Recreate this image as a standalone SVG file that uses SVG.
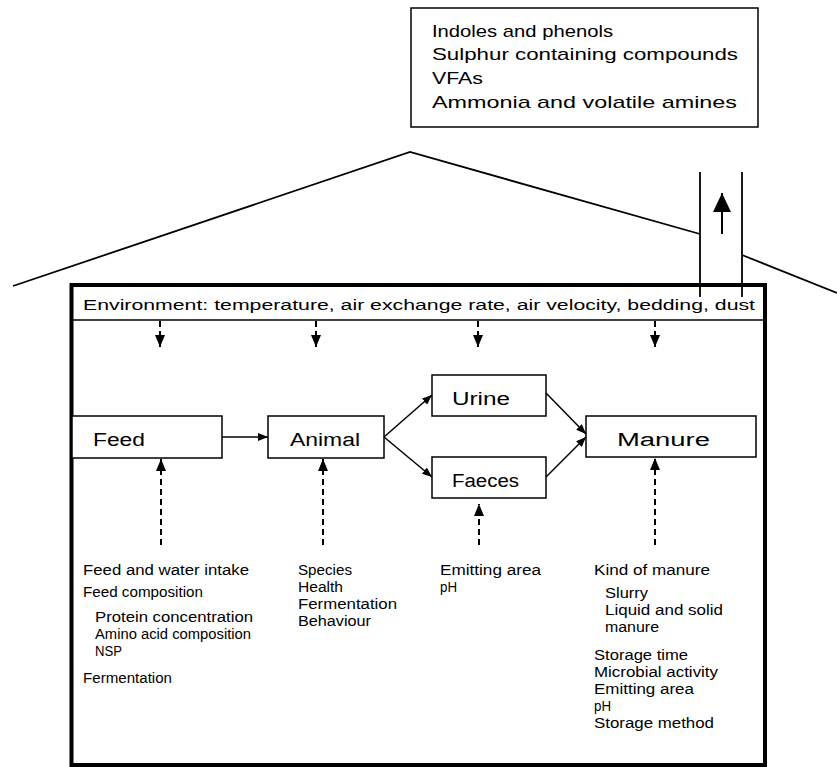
<svg xmlns="http://www.w3.org/2000/svg" width="837" height="767" viewBox="0 0 837 767">
<style>
text{font-family:"Liberation Sans",Arial,sans-serif;fill:#000}
.t17{font-size:17px}
.t15{font-size:15.5px}
.t18{font-size:18px}
.t13{font-size:14px}
.box{fill:#fff;stroke:#000;stroke-width:1.5}
.ln{fill:none;stroke:#000;stroke-width:1.8}
.sa{fill:none;stroke:#000;stroke-width:1.5;marker-end:url(#ah)}
.da{fill:none;stroke:#000;stroke-width:2;stroke-dasharray:6 4;marker-end:url(#dh)}
</style>
<defs>
<marker id="ah" markerUnits="userSpaceOnUse" markerWidth="10" markerHeight="8" refX="10" refY="4" orient="auto"><path d="M0,0 L10,4 L0,8 z" fill="#000"/></marker>
<marker id="dh" markerUnits="userSpaceOnUse" markerWidth="12" markerHeight="10" refX="12" refY="5" orient="auto"><path d="M0,0 L12,5 L0,10 z" fill="#000"/></marker>
<marker id="bh" markerUnits="userSpaceOnUse" markerWidth="19" markerHeight="18" refX="19" refY="9" orient="auto"><path d="M0,0 L19,9 L0,18 z" fill="#000"/></marker>
</defs>

<g id="emissions">
<rect class="box" x="411" y="8" width="347" height="119"/>
<text class="t17" x="432" y="37" textLength="181" lengthAdjust="spacingAndGlyphs">Indoles and phenols</text>
<text class="t17" x="432" y="60" textLength="306" lengthAdjust="spacingAndGlyphs">Sulphur containing compounds</text>
<text class="t17" x="432" y="84" textLength="51" lengthAdjust="spacingAndGlyphs">VFAs</text>
<text class="t17" x="432" y="108" textLength="305" lengthAdjust="spacingAndGlyphs">Ammonia and volatile amines</text>
</g>

<g id="roof">
<polyline class="ln" points="13,286 410,152 700,234"/>
<line class="ln" x1="742" y1="255" x2="837" y2="293"/>
<line class="ln" x1="700" y1="172" x2="700" y2="297"/>
<line class="ln" x1="742" y1="172" x2="742" y2="297"/>
<line x1="722" y1="234" x2="722" y2="193" stroke="#000" stroke-width="2" marker-end="url(#bh)"/>
</g>

<g id="house">
<rect x="71.5" y="285" width="693.5" height="480" fill="none" stroke="#000" stroke-width="4"/>
</g>

<g id="environment">
<line x1="71" y1="320" x2="765" y2="320" stroke="#000" stroke-width="1.5"/>
<text class="t15" x="83" y="310" textLength="672" lengthAdjust="spacingAndGlyphs">Environment: temperature, air exchange rate, air velocity, bedding, dust</text>
</g>

<g id="feed">
<rect class="box" x="72" y="416" width="150" height="42"/>
<text class="t18" x="93" y="446" textLength="52" lengthAdjust="spacingAndGlyphs">Feed</text>
</g>
<g id="animal">
<rect class="box" x="268" y="416" width="116" height="42"/>
<text class="t18" x="290" y="446" textLength="70" lengthAdjust="spacingAndGlyphs">Animal</text>
</g>
<g id="urine">
<rect class="box" x="432" y="375" width="114" height="41"/>
<text class="t18" x="452" y="405" textLength="58" lengthAdjust="spacingAndGlyphs">Urine</text>
</g>
<g id="faeces">
<rect class="box" x="432" y="457" width="114" height="41"/>
<text class="t18" x="452" y="487" textLength="67" lengthAdjust="spacingAndGlyphs">Faeces</text>
</g>
<g id="manure">
<rect class="box" x="586" y="416" width="170" height="41"/>
<text class="t18" x="617" y="446" textLength="93" lengthAdjust="spacingAndGlyphs">Manure</text>
</g>

<g id="connectors">
<line class="sa" x1="222" y1="437" x2="268" y2="437"/>
<line class="sa" x1="384" y1="437" x2="432" y2="395"/>
<line class="sa" x1="384" y1="437" x2="432" y2="477"/>
<line class="sa" x1="546" y1="393" x2="586" y2="434"/>
<line class="sa" x1="546" y1="477" x2="586" y2="437"/>
<line class="da" x1="160" y1="321" x2="160" y2="347"/>
<line class="da" x1="316" y1="321" x2="316" y2="347"/>
<line class="da" x1="478" y1="321" x2="478" y2="347"/>
<line class="da" x1="655" y1="321" x2="655" y2="347"/>
<line class="da" x1="161" y1="545" x2="161" y2="459"/>
<line class="da" x1="323" y1="545" x2="323" y2="459"/>
<line class="da" x1="479" y1="545" x2="479" y2="504"/>
<line class="da" x1="655" y1="545" x2="655" y2="458"/>
</g>

<g id="feed-factors">
<text class="t13" x="83" y="575" textLength="166" lengthAdjust="spacingAndGlyphs">Feed and water intake</text>
<text class="t13" x="83" y="597" textLength="120" lengthAdjust="spacingAndGlyphs">Feed composition</text>
<text class="t13" x="95" y="622" textLength="158" lengthAdjust="spacingAndGlyphs">Protein concentration</text>
<text class="t13" x="95" y="639" textLength="156" lengthAdjust="spacingAndGlyphs">Amino acid composition</text>
<text class="t13" x="95" y="656" textLength="27" lengthAdjust="spacingAndGlyphs">NSP</text>
<text class="t13" x="83" y="683" textLength="89" lengthAdjust="spacingAndGlyphs">Fermentation</text>
</g>
<g id="animal-factors">
<text class="t13" x="298" y="575" textLength="54" lengthAdjust="spacingAndGlyphs">Species</text>
<text class="t13" x="298" y="592" textLength="45" lengthAdjust="spacingAndGlyphs">Health</text>
<text class="t13" x="298" y="609" textLength="99" lengthAdjust="spacingAndGlyphs">Fermentation</text>
<text class="t13" x="298" y="626" textLength="73" lengthAdjust="spacingAndGlyphs">Behaviour</text>
</g>
<g id="faeces-factors">
<text class="t13" x="440" y="575" textLength="101" lengthAdjust="spacingAndGlyphs">Emitting area</text>
<text class="t13" x="440" y="592" textLength="17" lengthAdjust="spacingAndGlyphs">pH</text>
</g>
<g id="manure-factors">
<text class="t13" x="594" y="575" textLength="116" lengthAdjust="spacingAndGlyphs">Kind of manure</text>
<text class="t13" x="605" y="598" textLength="43" lengthAdjust="spacingAndGlyphs">Slurry</text>
<text class="t13" x="605" y="615" textLength="118" lengthAdjust="spacingAndGlyphs">Liquid and solid</text>
<text class="t13" x="605" y="632" textLength="54" lengthAdjust="spacingAndGlyphs">manure</text>
<text class="t13" x="594" y="660" textLength="94" lengthAdjust="spacingAndGlyphs">Storage time</text>
<text class="t13" x="594" y="677" textLength="124" lengthAdjust="spacingAndGlyphs">Microbial activity</text>
<text class="t13" x="594" y="694" textLength="100" lengthAdjust="spacingAndGlyphs">Emitting area</text>
<text class="t13" x="594" y="711" textLength="17" lengthAdjust="spacingAndGlyphs">pH</text>
<text class="t13" x="594" y="728" textLength="120" lengthAdjust="spacingAndGlyphs">Storage method</text>
</g>
</svg>
